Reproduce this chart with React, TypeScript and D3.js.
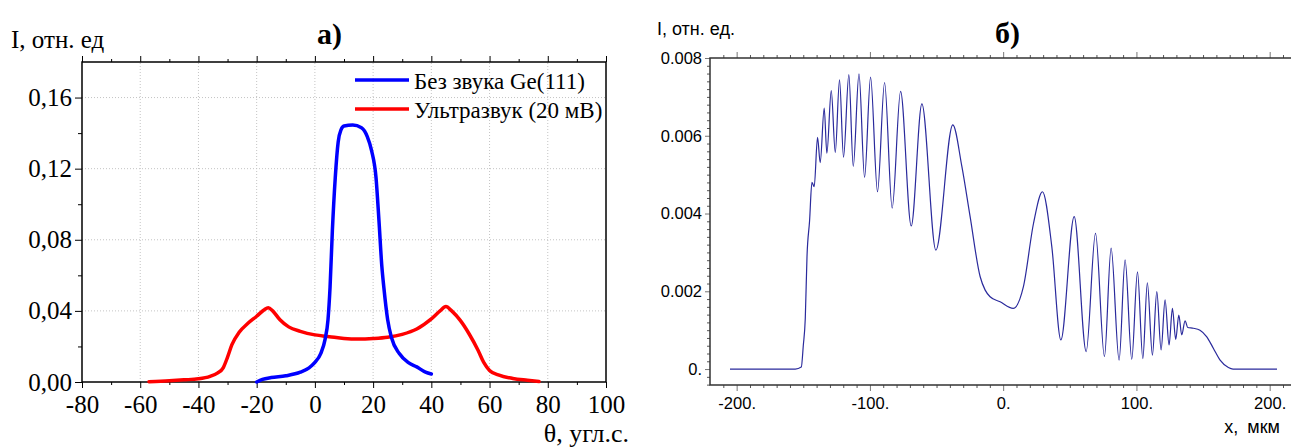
import React, { useEffect, useRef } from 'react';
import * as d3 from 'd3';

// panel a): rocking curves, theta in arc seconds
const blueTheta = [-20, -18, -15, -10, -5, -2, 0, 2, 3.5, 4.5, 5.2, 6, 7, 8, 9, 10, 13, 16, 18, 19.5, 21, 22, 23, 23.7, 25, 26.3, 29, 32, 35, 38, 40];
const blueI = [0, 0.0015, 0.0025, 0.0035, 0.0055, 0.008, 0.011, 0.016, 0.024, 0.035, 0.053, 0.085, 0.115, 0.135, 0.142, 0.144, 0.1445, 0.143, 0.138, 0.13, 0.115, 0.091, 0.065, 0.053, 0.035, 0.025, 0.016, 0.011, 0.0085, 0.0055, 0.0045];
const redTheta = [-57, -50, -45, -40, -36, -33.5, -31.5, -30, -28.5, -26, -23, -20, -17.5, -16, -14.5, -12, -9, -5, 0, 5, 10, 15, 20, 25, 30, 35, 40, 43, 45, 47, 50, 53, 56, 58, 60, 63, 68, 73, 77];
const redI = [0.0002, 0.0007, 0.0012, 0.0018, 0.0032, 0.005, 0.008, 0.014, 0.021, 0.028, 0.033, 0.037, 0.0405, 0.0418, 0.04, 0.035, 0.031, 0.0285, 0.0265, 0.0255, 0.0245, 0.0242, 0.0245, 0.0252, 0.0268, 0.0298, 0.0355, 0.04, 0.0425, 0.04, 0.0345, 0.027, 0.018, 0.011, 0.0065, 0.004, 0.002, 0.001, 0.0003];
const leftXTicks = [-80, -60, -40, -20, 0, 20, 40, 60, 80, 100];
const leftYTicks = [0, 0.04, 0.08, 0.12, 0.16];
const legendLabels = ['Без звука Ge(111)', 'Ультразвук (20 мВ)'];

// panel б): intensity profile along x, мкм
const profileX = [-205, -156, -151.5, -150, -148.5, -147.2, -145.3, -143.5, -141.8, -139.3, -137.3, -134.3, -132.3, -129, -126, -122.8, -119.8, -115.8, -112.5, -108.2, -104, -99.5, -94.3, -89, -83.3, -77, -69, -61, -50.5, -37.8, -31, -24.8, -17.3, -13.5, -9.8, -2.3, 7.5, 15.2, 22.8, 29.5, 36.5, 43.3, 53.3, 62.3, 69.3, 76, 81, 87, 91.5, 96.5, 100.8, 104.8, 108.2, 112, 115.3, 118.5, 121.5, 124.5, 127, 129.5, 131.8, 134, 136.5, 138.5, 142.7, 147.7, 152.8, 157.8, 162.8, 169, 172.5, 205.5];
const profileI = [0, 0, 0.00005, 0.0006, 0.0013, 0.0029, 0.0038, 0.0048, 0.00469, 0.00596, 0.00531, 0.00671, 0.00555, 0.00716, 0.00557, 0.00744, 0.00545, 0.00757, 0.00521, 0.00759, 0.00493, 0.00751, 0.00456, 0.00737, 0.00414, 0.00714, 0.00368, 0.00682, 0.00306, 0.00628, 0.00521, 0.00392, 0.00238, 0.00203, 0.00186, 0.00173, 0.00156, 0.00212, 0.00375, 0.00456, 0.00315, 0.00075, 0.00392, 0.00045, 0.00349, 0.00032, 0.00311, 0.00023, 0.00281, 0.00025, 0.0025, 0.00027, 0.00222, 0.00036, 0.00199, 0.00049, 0.00178, 0.00062, 0.00156, 0.00076, 0.00139, 0.00088, 0.00124, 0.00107, 0.00105, 0.001, 0.00083, 0.00053, 0.00023, 0.00004, 0, 0];
const rightXTicks = [-200, -100, 0, 100, 200];
const rightXLabels = ['-200.', '-100.', '0.', '100.', '200.'];
const rightYTicks = [0, 0.002, 0.004, 0.006, 0.008];
const rightYLabels = ['0.', '0.002', '0.004', '0.006', '0.008'];

const serif = 'Liberation Serif, Times New Roman, serif';
const sans = 'Liberation Sans, Arial, sans-serif';

const styleAxis = (g, font, size, tickColor) => {
  g.select('.domain').remove();
  g.attr('font-family', font).attr('font-size', size);
  g.selectAll('line').attr('stroke', tickColor).attr('stroke-width', 1);
  g.selectAll('text').attr('fill', '#000');
};

const drawLeft = (svg) => {
  const x = d3.scaleLinear().domain([-80, 100]).range([82, 606]);
  const y = d3.scaleLinear().domain([0, 0.18]).range([382, 62]);
  const g = svg.append('g');

  // dotted grid
  g.append('g')
    .selectAll('line')
    .data(leftXTicks.slice(1, -1))
    .join('line')
    .attr('x1', (d) => x(d))
    .attr('x2', (d) => x(d))
    .attr('y1', y(0))
    .attr('y2', y(0.18))
    .attr('stroke', '#c4c4c4')
    .attr('stroke-dasharray', '1,2');
  g.append('g')
    .selectAll('line')
    .data(leftYTicks.slice(1))
    .join('line')
    .attr('x1', x(-80))
    .attr('x2', x(100))
    .attr('y1', (d) => y(d))
    .attr('y2', (d) => y(d))
    .attr('stroke', '#c4c4c4')
    .attr('stroke-dasharray', '1,2');

  const minorX = d3.range(-70, 100, 20);
  const minorY = [0.02, 0.06, 0.1, 0.14];

  g.append('g')
    .attr('transform', `translate(0,${y(0)})`)
    .call(d3.axisBottom(x).tickValues(leftXTicks).tickSize(6).tickPadding(7).tickSizeOuter(0).tickFormat((d) => String(d)))
    .call((a) => styleAxis(a, serif, 25, '#000'));
  g.append('g')
    .attr('transform', `translate(0,${y(0)})`)
    .call(d3.axisBottom(x).tickValues(minorX).tickSize(3).tickSizeOuter(0).tickFormat(() => ''))
    .call((a) => styleAxis(a, serif, 25, '#000'));
  g.append('g')
    .attr('transform', `translate(0,${y(0.18)})`)
    .call(d3.axisTop(x).tickValues(leftXTicks).tickSize(6).tickSizeOuter(0).tickFormat(() => ''))
    .call((a) => styleAxis(a, serif, 25, '#000'));
  g.append('g')
    .attr('transform', `translate(0,${y(0.18)})`)
    .call(d3.axisTop(x).tickValues(minorX).tickSize(3).tickSizeOuter(0).tickFormat(() => ''))
    .call((a) => styleAxis(a, serif, 25, '#000'));
  g.append('g')
    .attr('transform', `translate(${x(-80)},0)`)
    .call(d3.axisLeft(y).tickValues(leftYTicks).tickSize(7).tickPadding(3).tickSizeOuter(0).tickFormat((d) => d.toFixed(2).replace('.', ',')))
    .call((a) => styleAxis(a, serif, 25, '#000'));
  g.append('g')
    .attr('transform', `translate(${x(-80)},0)`)
    .call(d3.axisLeft(y).tickValues(minorY).tickSize(4).tickSizeOuter(0).tickFormat(() => ''))
    .call((a) => styleAxis(a, serif, 25, '#000'));

  g.append('rect')
    .attr('x', x(-80))
    .attr('y', y(0.18))
    .attr('width', x(100) - x(-80))
    .attr('height', y(0) - y(0.18))
    .attr('fill', 'none')
    .attr('stroke', '#000')
    .attr('stroke-width', 1.5);

  const line = (xs) =>
    d3
      .line()
      .x((d, i) => x(xs[i]))
      .y((d) => y(d))
      .curve(d3.curveMonotoneX);

  g.append('path')
    .datum(redI)
    .attr('fill', 'none')
    .attr('stroke', '#ff0000')
    .attr('stroke-width', 3.5)
    .attr('stroke-linecap', 'round')
    .attr('d', line(redTheta));
  g.append('path')
    .datum(blueI)
    .attr('fill', 'none')
    .attr('stroke', '#0000ff')
    .attr('stroke-width', 3.5)
    .attr('stroke-linecap', 'round')
    .attr('d', line(blueTheta));

  // legend
  const colors = ['#0000ff', '#ff0000'];
  legendLabels.forEach((t, i) => {
    const ly = 80 + i * 29;
    g.append('line')
      .attr('x1', 355)
      .attr('x2', 409)
      .attr('y1', ly)
      .attr('y2', ly)
      .attr('stroke', colors[i])
      .attr('stroke-width', 3.5);
    g.append('text')
      .attr('x', 414)
      .attr('y', ly + 9)
      .attr('font-family', serif)
      .attr('font-size', 23)
      .text(t);
  });

  g.append('text').attr('x', 11).attr('y', 48).attr('font-family', serif).attr('font-size', 25).text('I, отн. ед');
  g.append('text').attr('x', 317).attr('y', 44).attr('font-family', serif).attr('font-size', 30).attr('font-weight', 'bold').text('а)');
  g.append('text')
    .attr('x', 629)
    .attr('y', 442)
    .attr('text-anchor', 'end')
    .attr('font-family', serif)
    .attr('font-size', 26)
    .text('θ, угл.с.');
};

const drawRight = (svg) => {
  const x = d3.scaleLinear().domain([-220, 216]).range([710, 1291]);
  const y = d3.scaleLinear().domain([-0.00041, 0.008]).range([385, 58]);
  const g = svg.append('g');

  const minorX = d3.range(-210, 216, 10).filter((d) => d % 100 !== 0);
  const minorY = d3.range(-2, 41).map((i) => i * 0.0002).filter((d, i) => (i - 2) % 10 !== 0);

  g.append('g')
    .attr('transform', `translate(0,${y.range()[0]})`)
    .call(d3.axisBottom(x).tickValues(rightXTicks).tickSize(6).tickPadding(6).tickSizeOuter(0).tickFormat((d, i) => rightXLabels[i]))
    .call((a) => styleAxis(a, sans, 16.5, '#777'));
  g.append('g')
    .attr('transform', `translate(0,${y.range()[0]})`)
    .call(d3.axisBottom(x).tickValues(minorX).tickSize(3).tickSizeOuter(0).tickFormat(() => ''))
    .call((a) => styleAxis(a, sans, 16.5, '#555'));
  g.append('g')
    .attr('transform', `translate(0,${y.range()[1]})`)
    .call(d3.axisTop(x).tickValues(rightXTicks).tickSize(6).tickSizeOuter(0).tickFormat(() => ''))
    .call((a) => styleAxis(a, sans, 16.5, '#777'));
  g.append('g')
    .attr('transform', `translate(0,${y.range()[1]})`)
    .call(d3.axisTop(x).tickValues(minorX).tickSize(3).tickSizeOuter(0).tickFormat(() => ''))
    .call((a) => styleAxis(a, sans, 16.5, '#555'));
  g.append('g')
    .attr('transform', `translate(${x.range()[0]},0)`)
    .call(d3.axisLeft(y).tickValues(rightYTicks).tickSize(5).tickPadding(3).tickSizeOuter(0).tickFormat((d, i) => rightYLabels[i]))
    .call((a) => styleAxis(a, sans, 16.5, '#777'));
  g.append('g')
    .attr('transform', `translate(${x.range()[0]},0)`)
    .call(d3.axisLeft(y).tickValues(minorY).tickSize(3).tickSizeOuter(0).tickFormat(() => ''))
    .call((a) => styleAxis(a, sans, 16.5, '#555'));

  g.append('path')
    .attr('fill', 'none')
    .attr('stroke', '#333')
    .attr('stroke-width', 1.5)
    .attr('d', `M${x.range()[1]},${y.range()[1]}H${x.range()[0]}V${y.range()[0]}H${x.range()[1]}`);

  g.append('path')
    .datum(profileI)
    .attr('fill', 'none')
    .attr('stroke', '#2a2a9c')
    .attr('stroke-width', 1.2)
    .attr(
      'd',
      d3
        .line()
        .x((d, i) => x(profileX[i]))
        .y((d) => y(d))
        .curve(d3.curveMonotoneX)
    );

  g.append('text').attr('x', 657).attr('y', 35).attr('font-family', sans).attr('font-size', 18).text('I, отн. ед.');
  g.append('text').attr('x', 995).attr('y', 43).attr('font-family', serif).attr('font-size', 30).attr('font-weight', 'bold').text('б)');
  g.append('text')
    .attr('x', 1280)
    .attr('y', 433)
    .attr('text-anchor', 'end')
    .attr('font-family', sans)
    .attr('font-size', 18)
    .attr('word-spacing', 4)
    .text('x, мкм');
};

const App = () => {
  const ref = useRef(null);

  useEffect(() => {
    document.body.style.margin = '0';
    const svg = d3.select(ref.current);
    svg.selectAll('*').remove();
    drawLeft(svg);
    drawRight(svg);
  }, []);

  return <svg ref={ref} width={1291} height={447} style={{ display: 'block', background: '#fff' }} />;
};

export default App;
